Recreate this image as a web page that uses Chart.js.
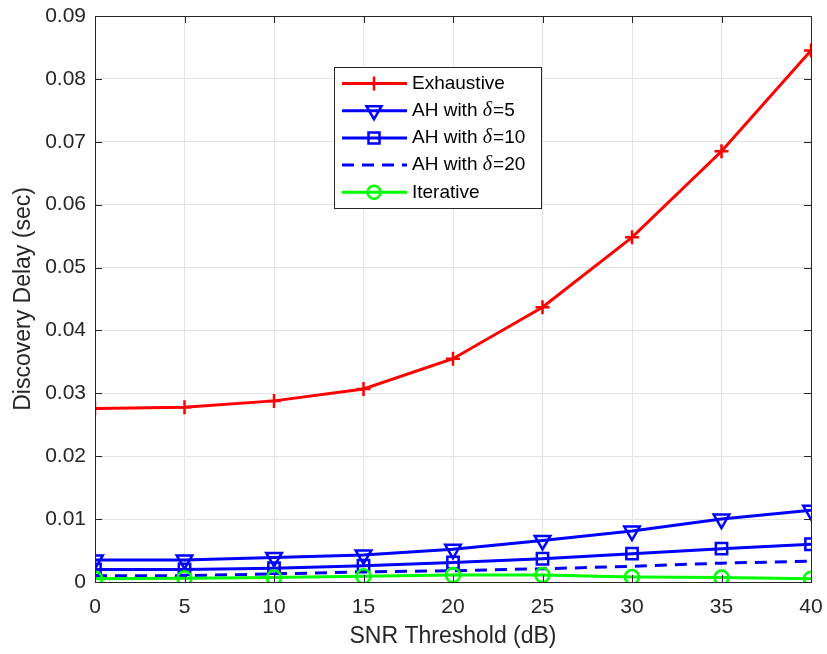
<!DOCTYPE html>
<html>
<head>
<meta charset="utf-8">
<script src="https://cdn.jsdelivr.net/npm/chart.js@4"></script>
<style>
  html, body { margin: 0; padding: 0; background: #fff; }
  #wrap { width: 827px; height: 654px; }
</style>
</head>
<body>
<div id="wrap"><canvas id="chart" width="827" height="654"></canvas></div>
<script>
// data
const snr = [0, 5, 10, 15, 20, 25, 30, 35, 40];
const exhaustive = [0.0276, 0.0278, 0.0288, 0.0307, 0.0355, 0.0437, 0.0548, 0.0685, 0.0845];
const ahDelta5 = [0.0035, 0.0035, 0.0039, 0.0043, 0.0052, 0.0066, 0.0081, 0.0100, 0.0114];
const ahDelta10 = [0.0020, 0.0020, 0.0022, 0.0026, 0.0031, 0.0037, 0.0045, 0.0053, 0.0060];
const ahDelta20 = [0.0010, 0.0010, 0.0013, 0.0016, 0.0018, 0.0021, 0.0025, 0.0030, 0.0033];
const iterative = [0.0005, 0.0006, 0.0007, 0.0009, 0.0011, 0.0011, 0.0008, 0.0007, 0.0005];
const yTicks = [0, 0.01, 0.02, 0.03, 0.04, 0.05, 0.06, 0.07, 0.08, 0.09];
const xTicks = [0, 5, 10, 15, 20, 25, 30, 35, 40];

const FONT = "'Liberation Sans', Arial, Helvetica, sans-serif";

const pts = (ys) => snr.map((x, i) => ({ x: x, y: ys[i] }));

// legend entries, drawn by hand inside the axes
const legendItems = [
    { pre: 'Exhaustive', delta: '', post: '', color: '#ff0000', marker: 'cross', dash: [] },
    { pre: 'AH with ', delta: '\u03b4', post: '=5', color: '#0000ff', marker: 'tri', dash: [] },
    { pre: 'AH with ', delta: '\u03b4', post: '=10', color: '#0000ff', marker: 'rect', dash: [] },
    { pre: 'AH with ', delta: '\u03b4', post: '=20', color: '#0000ff', marker: '', dash: [12, 8] },
    { pre: 'Iterative', delta: '', post: '', color: '#00ff00', marker: 'circle', dash: [] }
];

function marker(ctx, type, x, y, color) {
    ctx.save();
    ctx.strokeStyle = color;
    ctx.lineWidth = 2.5;
    ctx.setLineDash([]);
    ctx.beginPath();
    if (type === 'cross') {
        ctx.moveTo(x - 7, y); ctx.lineTo(x + 7, y);
        ctx.moveTo(x, y - 7); ctx.lineTo(x, y + 7);
    } else if (type === 'tri') {
        ctx.moveTo(x - 7.5, y - 4.5); ctx.lineTo(x + 7.5, y - 4.5); ctx.lineTo(x, y + 8.5); ctx.closePath();
    } else if (type === 'rect') {
        ctx.rect(x - 5.5, y - 5.5, 11, 11);
    } else if (type === 'circle') {
        ctx.arc(x, y, 6.5, 0, Math.PI * 2);
    }
    ctx.stroke();
    ctx.restore();
}

const framePlugin = {
    id: 'frame',
    afterDraw(chart) {
        const ctx = chart.ctx;
        const a = chart.chartArea;
        const xs = chart.scales.x, ys = chart.scales.y;
        ctx.save();
        // box and inward ticks like matlab
        ctx.strokeStyle = '#262626';
        ctx.lineWidth = 1;
        ctx.strokeRect(Math.round(a.left) + 0.5, Math.round(a.top) + 0.5, Math.round(a.right - a.left), Math.round(a.bottom - a.top));
        ctx.beginPath();
        xTicks.forEach(v => {
            const px = Math.round(xs.getPixelForValue(v)) + 0.5;
            ctx.moveTo(px, a.bottom); ctx.lineTo(px, a.bottom - 7);
            ctx.moveTo(px, a.top); ctx.lineTo(px, a.top + 7);
        });
        yTicks.forEach(v => {
            const py = Math.round(ys.getPixelForValue(v)) + 0.5;
            ctx.moveTo(a.left, py); ctx.lineTo(a.left + 7, py);
            ctx.moveTo(a.right, py); ctx.lineTo(a.right - 7, py);
        });
        ctx.stroke();

        // legend
        const lx = 334, ly = 67, lw = 207, lh = 141;
        ctx.fillStyle = '#fff';
        ctx.fillRect(lx, ly, lw, lh);
        ctx.strokeStyle = '#262626';
        ctx.strokeRect(lx + 0.5, ly + 0.5, lw, lh);
        legendItems.forEach((it, i) => {
            const y = 83.5 + i * 27.2;
            ctx.strokeStyle = it.color;
            ctx.lineWidth = 3;
            ctx.setLineDash(it.dash);
            ctx.beginPath();
            ctx.moveTo(342, y); ctx.lineTo(407, y);
            ctx.stroke();
            ctx.setLineDash([]);
            if (it.marker) marker(ctx, it.marker, 374, y, it.color);
            ctx.fillStyle = '#000';
            ctx.textBaseline = 'middle';
            ctx.textAlign = 'left';
            let tx = 412;
            ctx.font = '19px ' + FONT;
            ctx.fillText(it.pre, tx, y);
            tx += ctx.measureText(it.pre).width;
            if (it.delta) {
                ctx.font = "italic 20px 'Liberation Serif', 'Times New Roman', serif";
                ctx.fillText(it.delta, tx, y);
                tx += ctx.measureText(it.delta).width + 1;
                ctx.font = '19px ' + FONT;
                ctx.fillText(it.post, tx, y);
            }
        });
        ctx.restore();
    }
};

const lineSet = (label, data, color, style, radius, order, dash) => ({
    label: label,
    data: pts(data),
    borderColor: color,
    backgroundColor: color,
    borderWidth: 3,
    borderDash: dash || [],
    pointStyle: style,
    pointRadius: radius,
    pointBorderWidth: 2.5,
    pointBorderColor: color,
    pointBackgroundColor: 'rgba(0,0,0,0)',
    pointRotation: style === 'triangle' ? 180 : 0,
    tension: 0,
    order: order
});

new Chart(document.getElementById('chart').getContext('2d'), {
    type: 'line',
    data: {
        datasets: [
            lineSet('Exhaustive', exhaustive, '#ff0000', 'cross', 7, 5),
            lineSet('AH with \u03b4=5', ahDelta5, '#0000ff', 'triangle', 9, 4),
            lineSet('AH with \u03b4=10', ahDelta10, '#0000ff', 'rect', 8, 3),
            lineSet('AH with \u03b4=20', ahDelta20, '#0000ff', false, 0, 2, [12, 8]),
            lineSet('Iterative', iterative, '#00ff00', 'circle', 7, 1)
        ]
    },
    options: {
        responsive: false,
        animation: false,
        layout: { padding: { left: 0, right: 16, top: 16, bottom: 0 } },
        plugins: { legend: { display: false }, tooltip: { enabled: false } },
        scales: {
            x: {
                type: 'linear',
                min: 0, max: 40,
                afterBuildTicks: (s) => { s.ticks = xTicks.map(v => ({ value: v })); },
                afterFit: (s) => { s.height = 72; s.paddingLeft = 0; s.paddingRight = 0; },
                grid: { color: '#e3e3e3', drawTicks: false },
                border: { display: false },
                ticks: { color: '#262626', font: { family: FONT, size: 21 }, padding: 13, maxRotation: 0 },
                title: { display: true, text: 'SNR Threshold (dB)', color: '#262626', font: { family: FONT, size: 23 }, padding: { top: 4 } }
            },
            y: {
                min: 0, max: 0.09,
                afterBuildTicks: (s) => { s.ticks = yTicks.map(v => ({ value: v })); },
                afterFit: (s) => { s.width = 95; s.paddingTop = 0; s.paddingBottom = 0; },
                grid: { color: '#e3e3e3', drawTicks: false },
                border: { display: false },
                ticks: {
                    color: '#262626', font: { family: FONT, size: 21 }, padding: 9,
                    callback: (v) => v === 0 ? '0' : v.toFixed(2)
                },
                title: { display: true, text: 'Discovery Delay (sec)', color: '#262626', font: { family: FONT, size: 23 }, padding: { top: 10 } }
            }
        }
    },
    plugins: [framePlugin]
});
</script>
</body>
</html>
